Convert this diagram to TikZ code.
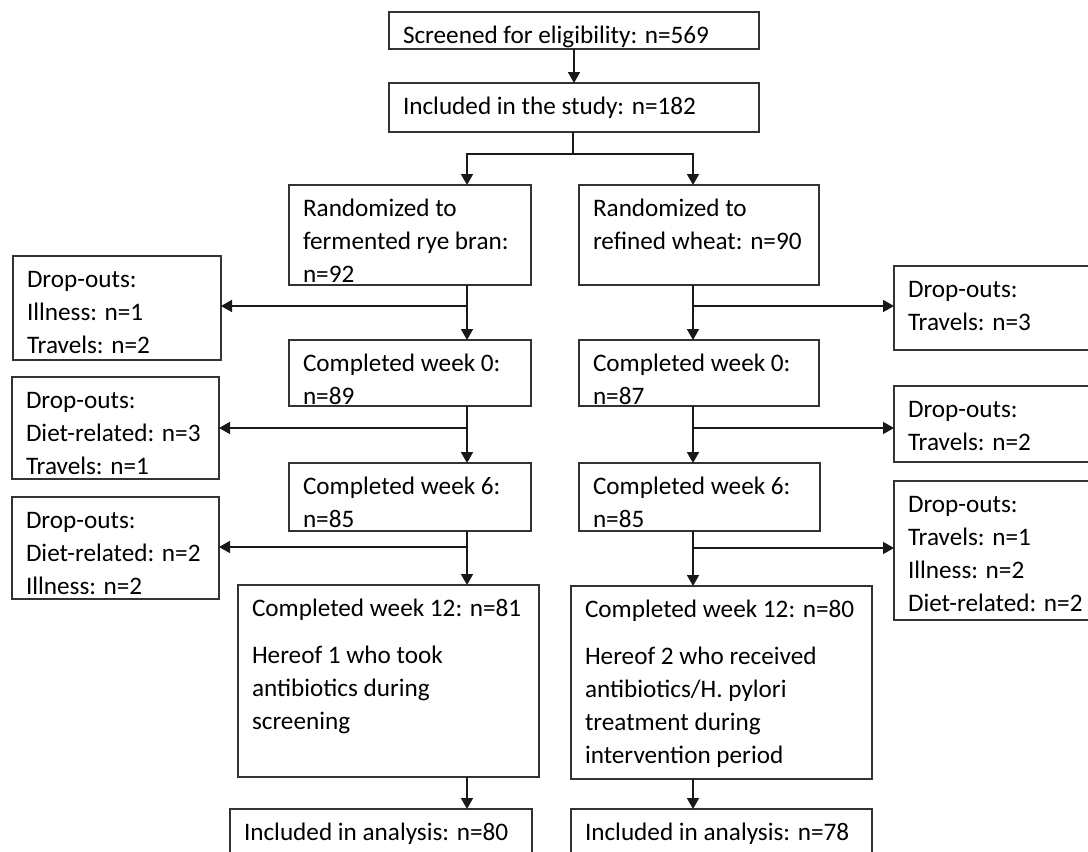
\documentclass[tikz,border=0pt]{standalone}
\usepackage{fontspec}
\setmainfont{Carlito}
\usetikzlibrary{arrows.meta}
\newcommand{\boxtext}[3]{\parbox[c][#2][t]{#1}{\raggedright\leftskip=7pt\rule{0pt}{15.5pt}#3}}

\begin{document}
\begin{tikzpicture}[x=0.5pt,y=-0.5pt,
  font=\fontsize{12.6}{16.5}\selectfont,
  box/.style={draw=black!80, line width=0.85pt, anchor=north west, inner sep=0pt, outer sep=0pt},
  arr/.style={draw=black!90, line width=0.85pt, -{Triangle[length=5.5pt,width=6pt]}}]
	\clip (0,0) rectangle (1088,852);
	% columns
	\coordinate (cT) at (574,0);
	\coordinate (cL) at (467,0);
	\coordinate (cR) at (693,0);
	\coordinate (split) at (573,154);
	% top
	\node[box] (scr) at (389,12) {\boxtext{185pt}{18.5pt}{Screened for eligibility: n=569}};
	\node[box] (inc) at (389,83) {\boxtext{185pt}{24.5pt}{Included in the study: n=182}};
	% left arm
	\node[box] (randL) at (289,185) {\boxtext{121pt}{50pt}{Randomized to\\fermented rye bran:\\n=92}};
	\node[box] (comp0L) at (289,340) {\boxtext{121pt}{33pt}{Completed week 0:\\n=89}};
	\node[box] (comp6L) at (289,463) {\boxtext{121pt}{34pt}{Completed week 6:\\n=85}};
	\node[box] (comp12L) at (238,585) {\boxtext{150.5pt}{96pt}{Completed week 12: n=81\\[7pt]Hereof 1 who took\\antibiotics during\\screening}};
	\node[box] (inclL) at (230,809) {\boxtext{151pt}{30pt}{Included in analysis: n=80}};
	\node[box] (do1L) at (13,256) {\boxtext{104pt}{52pt}{Drop-outs:\\Illness: n=1\\Travels: n=2}};
	\node[box] (do2L) at (12,377) {\boxtext{103.5pt}{51pt}{Drop-outs:\\Diet-related: n=3\\Travels: n=1}};
	\node[box] (do3L) at (12,497) {\boxtext{103.5pt}{51pt}{Drop-outs:\\Diet-related: n=2\\Illness: n=2}};
	% right arm
	\node[box] (randR) at (579,185) {\boxtext{120pt}{50pt}{Randomized to\\refined wheat: n=90}};
	\node[box] (comp0R) at (579,340) {\boxtext{120pt}{33pt}{Completed week 0:\\n=87}};
	\node[box] (comp6R) at (579,463) {\boxtext{120.5pt}{34pt}{Completed week 6:\\n=85}};
	\node[box] (comp12R) at (571,586) {\boxtext{150.5pt}{96.5pt}{Completed week 12: n=80\\[7pt]Hereof 2 who received\\antibiotics/H. pylori\\treatment during\\intervention period}};
	\node[box] (inclR) at (571,809) {\boxtext{150.5pt}{30pt}{Included in analysis: n=78}};
	\node[box] (do1R) at (894,266) {\boxtext{110pt}{42pt}{Drop-outs:\\Travels: n=3}};
	\node[box] (do2R) at (894,386) {\boxtext{110pt}{38pt}{Drop-outs:\\Travels: n=2}};
	\node[box] (do3R) at (894,481) {\boxtext{110pt}{69.5pt}{Drop-outs:\\Travels: n=1\\Illness: n=2\\Diet-related: n=2}};
	% arrows
	\draw[arr] (scr.south -| cT) -- (inc.north -| cT);
	\draw[black!90, line width=0.85pt] (inc.south -| split) -- (split);
	\draw[arr] (split) -| (randL.north -| cL);
	\draw[arr] (split) -| (randR.north -| cR);
	\draw[arr] (randL.south -| cL) -- (comp0L.north -| cL);
	\draw[arr] (comp0L.south -| cL) -- (comp6L.north -| cL);
	\draw[arr] (comp6L.south -| cL) -- (comp12L.north -| cL);
	\draw[arr] (comp12L.south -| cL) -- (inclL.north -| cL);
	\draw[arr] (randR.south -| cR) -- (comp0R.north -| cR);
	\draw[arr] (comp0R.south -| cR) -- (comp6R.north -| cR);
	\draw[arr] (comp6R.south -| cR) -- (comp12R.north -| cR);
	\draw[arr] (comp12R.south -| cR) -- (inclR.north -| cR);
	% drop-out branches
	\coordinate (bL1) at (467,306);
	\coordinate (bL2) at (467,428);
	\coordinate (bL3) at (467,547);
	\coordinate (bR1) at (693,306);
	\coordinate (bR2) at (693,428);
	\coordinate (bR3) at (693,548);
	\draw[arr] (bL1) -- (bL1 -| do1L.east);
	\draw[arr] (bL2) -- (bL2 -| do2L.east);
	\draw[arr] (bL3) -- (bL3 -| do3L.east);
	\draw[arr] (bR1) -- (bR1 -| do1R.west);
	\draw[arr] (bR2) -- (bR2 -| do2R.west);
	\draw[arr] (bR3) -- (bR3 -| do3R.west);
\end{tikzpicture}
\end{document}
